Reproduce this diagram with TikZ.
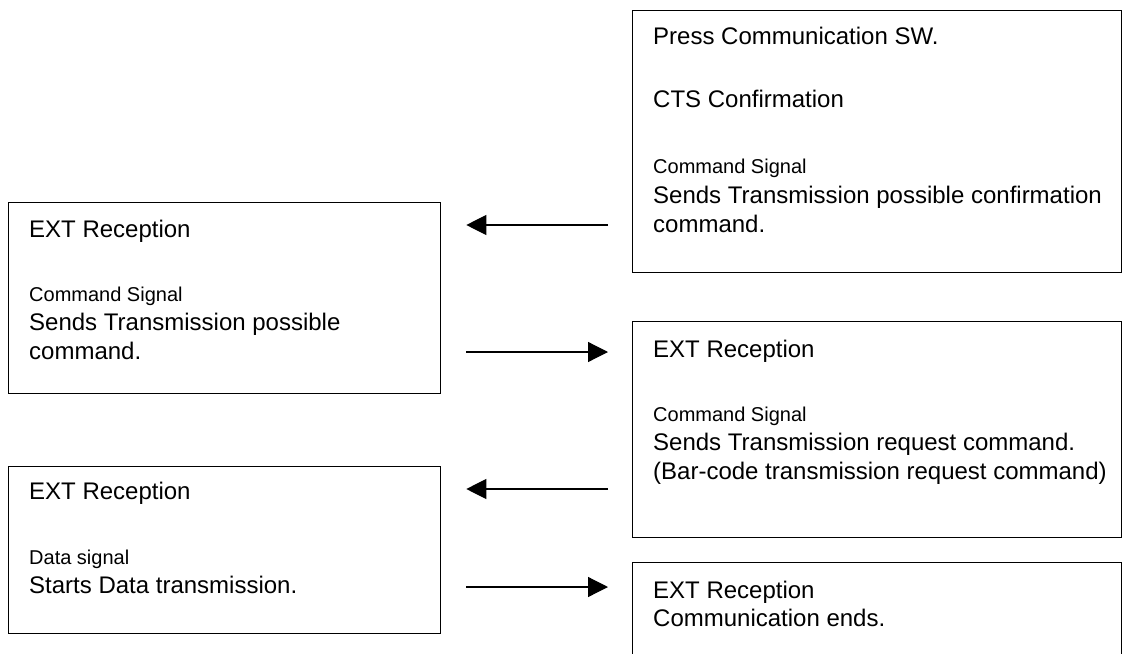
\documentclass[tikz,border=0pt]{standalone}
\usepackage{fontspec}
\setmainfont{Liberation Sans}
\usetikzlibrary{calc,arrows.meta}
\begin{document}
\begin{tikzpicture}[x=1pt,y=-1pt,
  box/.style={draw,line width=1.3pt,rectangle,inner sep=0pt,anchor=north west},
  big/.style={anchor=base west,inner sep=0pt,font=\fontsize{24}{29}\selectfont},
  small/.style={anchor=base west,inner sep=0pt,font=\fontsize{20}{24}\selectfont},
  conn/.style={line width=1.2pt,-{Triangle[length=20pt,width=20pt]}}]
\clip (0,0) rectangle (1137,653);
\fill[white] (0,0) rectangle (1137,653);
% boxes
\node[box,minimum width=489pt,minimum height=262pt] (r1) at (632,10) {};
\node[box,minimum width=432pt,minimum height=191pt] (l1) at (8,202) {};
\node[box,minimum width=489pt,minimum height=216pt] (r2) at (632,321) {};
\node[box,minimum width=432pt,minimum height=167pt] (l2) at (8,466) {};
\node[box,minimum width=489pt,minimum height=130pt] (r3) at (632,562) {};
% texts R1
\node[big] (t1) at (653,44) {Press Communication SW.};
\node[big] (t2) at (653,107) {CTS Confirmation};
\node[small] (t3) at (653,173) {Command Signal};
\node[big] (t4) at (653,203) {Sends Transmission possible confirmation};
\node[big] (t5) at (653,232) {command.};
% texts L1
\node[big] (t6) at (29,237) {EXT Reception};
\node[small] (t7) at (29,301) {Command Signal};
\node[big] (t8) at (29,330) {Sends Transmission possible};
\node[big] (t9) at (29,359) {command.};
% texts R2
\node[big] (t10) at (653,357) {EXT Reception};
\node[small] (t11) at (653,421) {Command Signal};
\node[big] (t12) at (653,450) {Sends Transmission request command.};
\node[big] (t13) at (653,479) {(Bar-code transmission request command)};
% texts L2
\node[big] (t14) at (29,499) {EXT Reception};
\node[small] (t15) at (29,564) {Data signal};
\node[big] (t16) at (29,593) {Starts Data transmission.};
% texts R3
\node[big] (t17) at (653,598) {EXT Reception};
\node[big] (t18) at (653,626) {Communication ends.};
% connectors
\draw[conn] ($(r1.north west)+(-24,215)$) -- ($(l1.north east)+(25,23)$);
\draw[conn] ($(l1.north east)+(25,150)$) -- ($(r2.north west)+(-24,31)$);
\draw[conn] ($(r2.north west)+(-24,168)$) -- ($(l2.north east)+(25,23)$);
\draw[conn] ($(l2.north east)+(25,121)$) -- ($(r3.north west)+(-24,25)$);
\end{tikzpicture}
\end{document}
